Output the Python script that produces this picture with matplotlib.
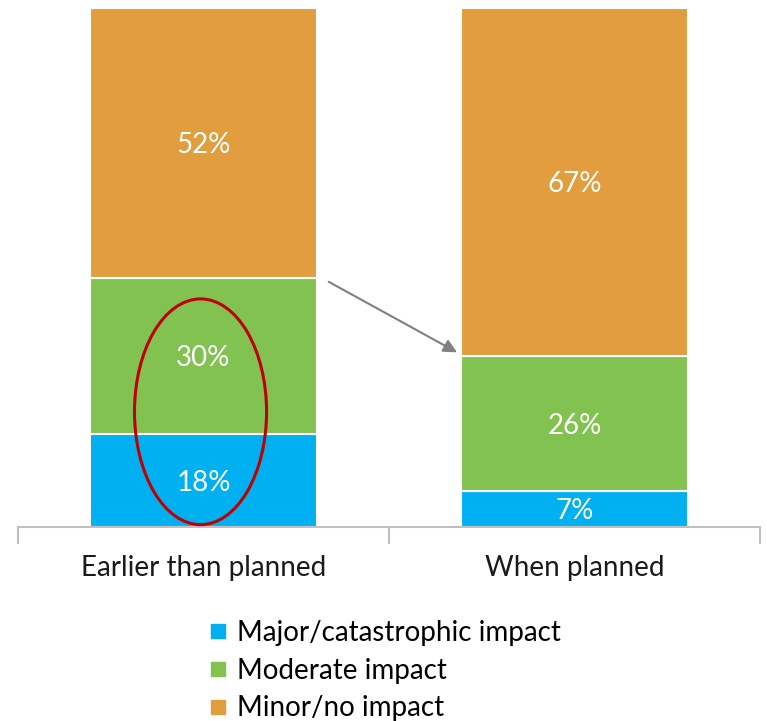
import matplotlib
matplotlib.use("Agg")
import matplotlib.pyplot as plt
from matplotlib.patches import Ellipse
from matplotlib.lines import Line2D

categories = ["Earlier than planned", "When planned"]
series_names = ["Major/catastrophic impact", "Moderate impact", "Minor/no impact"]
major = [18, 7]
moderate = [30, 26]
minor = [52, 67]
colors = ["#00B0F0", "#82C250", "#E29D3E"]

plt.rcParams['font.family'] = ['Lato', 'DejaVu Sans']

W, H = 767, 721
fig = plt.figure(figsize=(W / 100, H / 100), dpi=100)
ax = fig.add_axes([18 / W, (H - 527) / H, (760 - 18) / W, (527 - 8) / H])

x = [0, 1]
bw = 0.612
bottoms = [0, 0]
for vals, c in zip([major, moderate, minor], colors):
    bars = ax.bar(x, vals, bw, bottom=bottoms, color=c, edgecolor="white", linewidth=1.5)
    for xi, v, b in zip(x, vals, bottoms):
        ax.text(xi, b + v / 2, f"{v}%", ha="center", va="center_baseline", color="white", fontsize=20)
    bottoms = [b + v for b, v in zip(bottoms, vals)]

ax.set_xlim(-0.5, 1.5)
ax.set_ylim(0, 100)
ax.set_yticks([])
for s in ["top", "right", "left"]:
    ax.spines[s].set_visible(False)
ax.spines["bottom"].set_color("#BFBFBF")
ax.spines["bottom"].set_linewidth(1.5)
ax.set_xticks([-0.5, 0.5, 1.5], minor=False)
ax.set_xticklabels([])
ax.tick_params(axis="x", which="major", length=12, width=1.5, color="#BFBFBF", direction="out")
ax.set_xticks(x, minor=True)
ax.set_xticklabels(categories, minor=True, fontsize=20, color="#1a1a1a")
ax.tick_params(axis="x", which="minor", length=0, pad=20)

# red ellipse highlighting left bottom segments
ell = Ellipse((x[0] - 0.008, 22.2), width=0.356, height=43.5, fill=False,
              edgecolor="#C00000", linewidth=2.2, clip_on=False, zorder=5)
ax.add_patch(ell)

# arrow
ax.annotate("", xy=(0.69, 33.4), xytext=(0.331, 47.5),
            arrowprops=dict(arrowstyle="-|>", color="#808080", lw=1.5, mutation_scale=20),
            annotation_clip=False)

handles = [Line2D([], [], marker="s", linestyle="none", markersize=10,
                  markerfacecolor=c, markeredgecolor=c) for c in colors]
fig.legend(handles, series_names, loc="upper left", bbox_to_anchor=(208 / W, 1 - 620 / H),
           frameon=False, fontsize=20, handlelength=0.7, handletextpad=0.35,
           labelspacing=0.42, borderaxespad=0, borderpad=0)

fig.savefig("out.png", dpi=100)
